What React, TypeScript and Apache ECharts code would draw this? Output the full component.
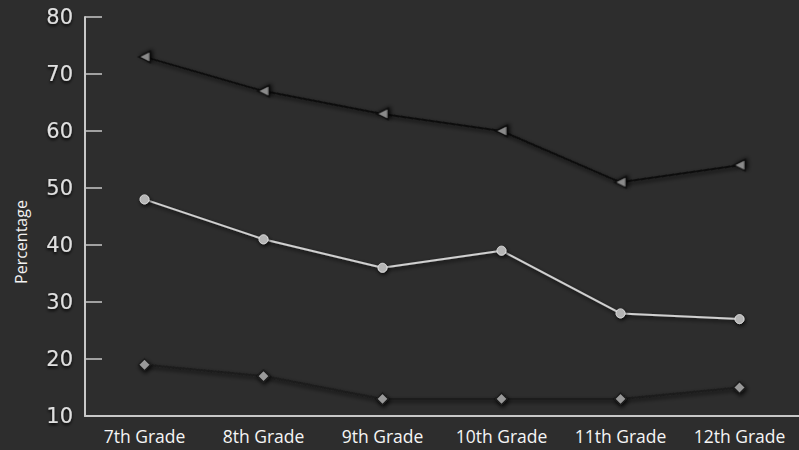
import React, { useEffect, useRef } from "react";
import * as echarts from "echarts";

const categories = ["7th Grade", "8th Grade", "9th Grade", "10th Grade", "11th Grade", "12th Grade"];
const seriesTop = [73, 67, 63, 60, 51, 54];
const seriesMid = [48, 41, 36, 39, 28, 27];
const seriesLow = [19, 17, 13, 13, 13, 15];
const yTicks = { min: 10, max: 80, interval: 10 };

export default function App() {
  const ref = useRef<HTMLDivElement>(null);
  useEffect(() => {
    const chart = echarts.init(ref.current!, undefined, { renderer: "svg" });
    const shadow = { shadowColor: "rgba(0,0,0,0.8)", shadowBlur: 4, shadowOffsetX: 1, shadowOffsetY: 2 };
    chart.setOption({
      animation: false,
      backgroundColor: "#2d2d2d",
      grid: { left: 85, right: -6, top: 17, bottom: 34, containLabel: false },
      graphic: [
        {
          type: "text",
          x: 21,
          y: 242,
          rotation: Math.PI / 2,
          style: {
            text: "Percentage",
            fill: "#f2f2f2",
            font: '16px "Open Sans", sans-serif',
            align: "center",
            verticalAlign: "middle",
          },
        },
      ],
      xAxis: {
        type: "category",
        data: categories,
        boundaryGap: true,
        axisLine: { lineStyle: { color: "#c8c8c8", width: 2 } },
        axisTick: { inside: true, length: 5, lineStyle: { color: "#c8c8c8", width: 1.5 } },
        axisLabel: {
          interval: 0,
          hideOverlap: false,
          color: "#f5f5f5",
          fontSize: 17.5,
          margin: 11,
          fontFamily: '"Open Sans", sans-serif',
        },
      },
      yAxis: {
        type: "value",
        min: yTicks.min,
        max: yTicks.max,
        interval: yTicks.interval,
        splitLine: { show: false },
        axisLine: { show: true, lineStyle: { color: "#c8c8c8", width: 2 } },
        axisTick: { show: true, inside: true, length: 17, lineStyle: { color: "#c8c8c8", width: 1.5 } },
        axisLabel: {
          color: "#e0e0e0",
          fontSize: 21,
          margin: 12,
          fontFamily: '"DejaVu Sans", sans-serif',
          textShadowColor: "rgba(0,0,0,0.9)",
          textShadowBlur: 3,
          textShadowOffsetY: 2,
        },
      },
      series: [
        {
          type: "line",
          data: seriesTop,
          symbol: "triangle",
          symbolRotate: 90,
          symbolSize: 11,
          lineStyle: { color: "#111111", width: 2, ...shadow },
          itemStyle: { color: "#8a8a8a", borderColor: "#111", borderWidth: 1.5, ...shadow },
        },
        {
          type: "line",
          data: seriesMid,
          symbol: "circle",
          symbolSize: 9,
          lineStyle: { color: "#d0d0d0", width: 2, ...shadow },
          itemStyle: { color: "#b5b5b5", borderColor: "#e0e0e0", borderWidth: 1, ...shadow },
        },
        {
          type: "line",
          data: seriesLow,
          symbol: "diamond",
          symbolSize: 12,
          lineStyle: { color: "#1c1c1c", width: 2, ...shadow },
          itemStyle: { color: "#999999", borderColor: "#1c1c1c", borderWidth: 1.5, ...shadow },
        },
      ],
    });
    return () => chart.dispose();
  }, []);
  return (
    <div
      ref={ref}
      style={{ position: "fixed", left: 0, top: 0, width: 799, height: 450 }}
    />
  );
}
